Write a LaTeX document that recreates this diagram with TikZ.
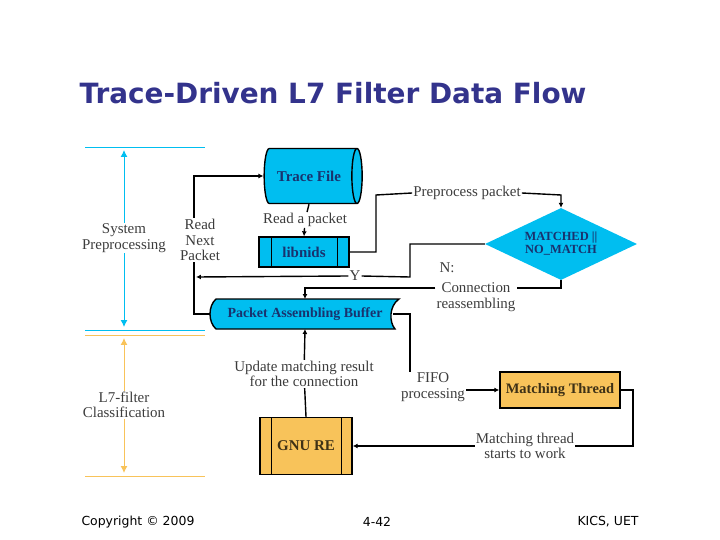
\documentclass[tikz,border=0pt]{standalone}
\usepackage{fontspec}
\setmainfont{Liberation Serif}
\newfontfamily\ttl{DejaVu Sans}
\usetikzlibrary{shapes.geometric,arrows.meta}
\definecolor{cy}{RGB}{0,190,240}
\definecolor{org}{RGB}{248,195,90}
\definecolor{ttlc}{RGB}{51,51,140}
\definecolor{bt}{RGB}{25,50,110}
\definecolor{gt}{RGB}{60,60,60}
\begin{document}
\begin{tikzpicture}[x=1bp,y=-1bp,
  lbl/.style={font=\fontsize{15}{15.5}\selectfont,text=gt,align=center,inner sep=1pt},
  blbl/.style={font=\fontsize{15}{15}\selectfont\bfseries,text=bt},
  ln/.style={line width=1.4pt},
  ar/.style={ln,-{Latex[length=5pt,width=5pt]}},
  box/.style={draw,line width=1.4pt}]
\useasboundingbox (0,0) rectangle (720,540);
\node[font=\ttl\bfseries\fontsize{28}{28}\selectfont,text=ttlc,anchor=west] (title) at (76,93) {Trace-Driven L7 Filter Data Flow};
\node[font=\ttl\fontsize{12.5}{12.5}\selectfont,anchor=west] (c1) at (78,522) {Copyright © 2009};
\node[font=\ttl\fontsize{12.5}{12.5}\selectfont] (c2) at (377,522) {4-42};
\node[font=\ttl\fontsize{12.5}{12.5}\selectfont,anchor=east] (c3) at (642,522) {KICS, UET};
% side scales
\draw[cy,line width=0.8pt] (85,147) -- (205,147) (85,330) -- (205,330);
\draw[org,line width=0.8pt] (85,335) -- (205,335) (85,476) -- (205,476);
\coordinate (s1) at (124,150); \coordinate (s2) at (124,327);
\coordinate (o1) at (124,338); \coordinate (o2) at (124,473);
\draw[cy,line width=1pt,{Latex[length=7pt,width=7pt]}-{Latex[length=7pt,width=7pt]}] (s1) -- (s2);
\draw[org,line width=1pt,{Latex[length=7pt,width=7pt]}-{Latex[length=7pt,width=7pt]}] (o1) -- (o2);
\node[lbl,fill=white] (sp) at (124,238) {System\\Preprocessing};
\node[lbl,fill=white] (l7) at (124,405) {L7-filter\\Classification};
% nodes
\node[cylinder,shape border rotate=0,draw,line width=1.4pt,fill=cy,minimum width=55bp,minimum height=98bp,aspect=0.6,blbl] (tf) at (309,176) {Trace File};
\node[box,fill=cy,minimum width=90bp,minimum height=30bp,blbl] (ln) at (304,252) {libnids};
\draw[line width=1pt] (271,237) -- (271,267) (337,237) -- (337,267);
\node[diamond,draw=none,fill=cy,minimum width=152bp,minimum height=72bp,inner sep=0pt,aspect=2.1] (dm) at (561,244) {};
\node[font=\fontsize{12.5}{13}\selectfont\bfseries,text=bt,align=center] at (561,244) {MATCHED ||\\NO\_MATCH};
\draw[fill=cy,line width=1.4pt] (216,299) .. controls (208,306) and (208,322) .. (216,329) -- (395,329) .. controls (389,322) and (389,306) .. (399,299) -- cycle;
\node[blbl,font=\fontsize{14}{14}\selectfont\bfseries] (pab) at (305,314) {Packet Assembling Buffer};
\coordinate (pabL) at (210,314); \coordinate (pabR) at (393,314);
\coordinate (pabT) at (305,299); \coordinate (pabB) at (305,329);
\node[box,fill=org,minimum width=120bp,minimum height=36bp,inner sep=1pt,blbl,font=\fontsize{14.5}{14.5}\selectfont\bfseries,text=black!75!org] (mt) at (560,390) {Matching Thread};
\node[box,fill=org,minimum width=92bp,minimum height=57bp,blbl,text=black!75!org] (gnu) at (306,446) {GNU RE};
\draw[line width=1pt] (271,418) -- (271,475) (341,418) -- (341,475);
% connectors behind labels
\draw[ar] (pabL) -- (194,314) -- (194,176) -- (tf.west);
\node[lbl] (rap) at (305,220) {Read a packet};
\node[lbl,fill=white] (rnp) at (200,240) {Read\\Next\\Packet};
\node[lbl] (pp) at (467,193) {Preprocess packet};
\node[lbl] (y) at (355,276) {Y};
\node[lbl] (n) at (447,268) {N:};
\node[lbl] (cr) at (476,297) {Connection\\reassembling};
\node[lbl] (um) at (304,374) {Update matching result\\for the connection};
\node[lbl] (fifo) at (433,387) {FIFO\\processing};
\node[lbl] (mts) at (525,446) {Matching thread\\starts to work};
% connectors
\draw[ar] (tf.south) -- (rap) -- (ln.north);
\draw[ln] (ln.east) -- (376,252) -- (376,195) -- (pp.west);
\draw[ar] (pp.east) -- (561,195) -- (dm.north);
\draw[ln] (dm.west) -- (410,244) -- (410,277) -- (y.east);
\draw[ar] (y.west) -- (196,277);
\draw[ln] (dm.south) -- (561,288) -- (cr.east |- 0,288);
\draw[ar] (cr.west |- 0,288) -- (305,288) -- (pabT);
\draw[ar] (gnu.north) -- (um) -- (pabB);
\draw[ln] (pabR) -- (410,314) -- (410,372);
\draw[ar] (fifo.east |- 0,390) -- (mt.west);
\draw[ln] (mt.east) -- (633,390) -- (633,446) -- (mts.east);
\draw[ar] (mts.west) -- (gnu.east);
\end{tikzpicture}
\end{document}
